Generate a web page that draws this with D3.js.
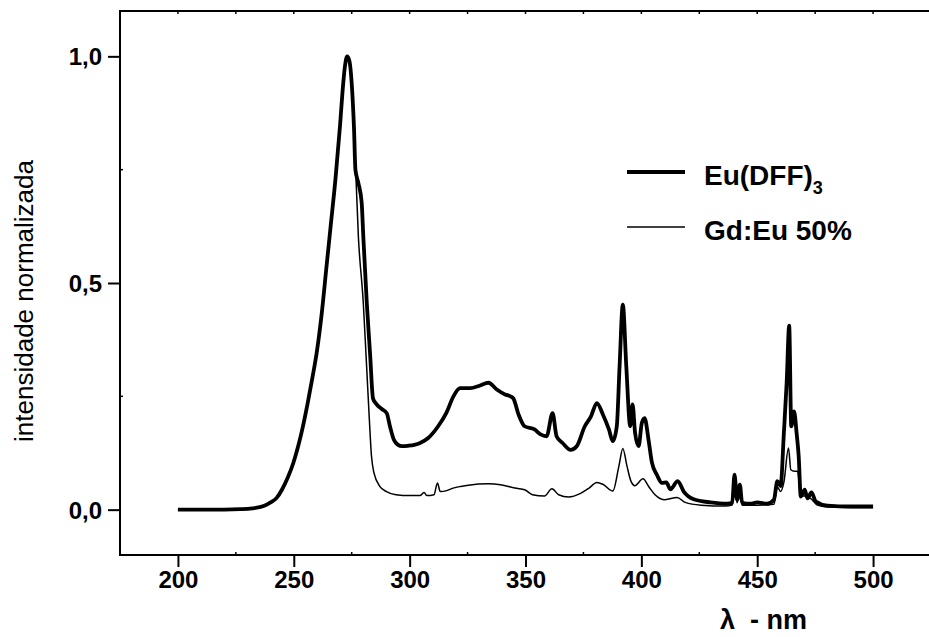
<!DOCTYPE html>
<html>
<head>
<meta charset="utf-8">
<script src="https://cdn.jsdelivr.net/npm/d3@7"></script>
<style>
    body { margin: 0; background: #fff; }
    svg { display: block; }
    text { font-family: "Liberation Sans", Arial, sans-serif; fill: #000; }
</style>
</head>
<body>
<svg id="chart" width="929" height="637"></svg>
<script>
(function() {

    //  Eu(DFF)3 excitation spectrum (wavelength nm, normalized intensity)
    var euWl = [200, 210, 220, 227, 232, 237, 240, 242.6, 245, 247.5, 249.8, 252, 254, 256, 258, 260, 262, 264, 266,
        268, 270, 271, 272, 273, 274, 275, 276, 276.6, 277.9, 279.3, 280, 281.5, 282.9, 284.2, 285.8, 288,
        290.1, 291.5, 293.2, 295, 296.7, 299.3, 302, 304.5, 308, 312.3, 315.8, 318.9, 321.8, 326.1, 330.4, 334, 337.6,
        341.2, 343.5, 344.8, 347, 349.6, 353.9, 356.5, 359.1, 361.7, 363.4, 366, 369.5, 372.1, 375.6, 378.2, 380.8,
        383.4, 386, 387.7, 389.4, 390.6, 392, 393.5, 395.2, 396.2, 397.3, 398.8, 400.2, 401.4, 403.1, 404.6, 406.7,
        408.9, 410.8, 412.5, 415.7, 418.3, 422.6, 429.8, 437, 439.2, 440.2, 441.3, 442.5, 443.5, 447.1, 450, 454.3,
        457.2, 458.7, 460.1, 461.5, 462.7, 463.8, 464.7, 465.9, 467, 467.9, 468.8, 470.5, 471.7, 473.4, 475.3, 480.3,
        490.4, 500];
    var euInt = [0, 0, 0, 0.001, 0.003, 0.008, 0.016, 0.026, 0.045, 0.072, 0.103, 0.142, 0.185, 0.235, 0.29, 0.35, 0.43, 0.53, 0.63,
        0.73, 0.85, 0.92, 0.975, 1.0, 0.99, 0.94, 0.84, 0.75, 0.72, 0.677, 0.603, 0.456, 0.346, 0.245, 0.232, 0.222,
        0.213, 0.184, 0.154, 0.143, 0.140, 0.141, 0.143, 0.147, 0.158, 0.184, 0.213, 0.25, 0.268, 0.268, 0.274, 0.280, 0.265,
        0.254, 0.25, 0.245, 0.210, 0.184, 0.177, 0.166, 0.162, 0.213, 0.162, 0.147, 0.132, 0.140, 0.184, 0.205, 0.235,
        0.210, 0.177, 0.151, 0.184, 0.316, 0.452, 0.316, 0.184, 0.232, 0.169, 0.140, 0.191, 0.202, 0.154, 0.103, 0.077,
        0.059, 0.060, 0.045, 0.063, 0.040, 0.023, 0.016, 0.013, 0.015, 0.077, 0.022, 0.055, 0.015, 0.013, 0.016, 0.013,
        0.022, 0.063, 0.052, 0.169, 0.279, 0.406, 0.184, 0.217, 0.169, 0.118, 0.029, 0.044, 0.025, 0.038, 0.018, 0.009,
        0.007, 0.007];

    //  Gd:Eu 50% excitation spectrum
    var gdWl = [200, 210, 220, 227, 232, 237, 240, 242.6, 245, 247.5, 249.8, 252, 254, 256, 258, 260, 262, 264, 266,
        268, 270, 271, 272, 273, 274, 275, 276, 277.9, 280, 281.5, 282.6, 283.5, 284.6, 287.2, 290, 294.1, 300,
        304.5, 306.2, 307.5, 310.5, 312, 313.2, 316, 318.4, 325.3, 334, 339.2, 346.1, 349.6, 353, 358.2, 361.4, 364.3,
        368.6, 373.8, 377.3, 380.8, 383.4, 387.7, 390.3, 392, 393.8, 395.5, 397.2, 400.7, 403.3, 405.9, 410.2, 415.4,
        418.9, 425.8, 436.2, 439.2, 440.2, 441.3, 442.5, 443.5, 450, 457.2, 458.7, 460.1, 461.5, 463.5, 464.5, 466, 467.4,
        468.8, 470.5, 473, 476, 480, 490, 500];
    var gdInt = [0, 0, 0, 0.001, 0.003, 0.008, 0.016, 0.026, 0.045, 0.072, 0.103, 0.142, 0.185, 0.235, 0.29, 0.35, 0.43, 0.53, 0.63,
        0.73, 0.85, 0.92, 0.975, 1.0, 0.99, 0.94, 0.84, 0.60, 0.456, 0.309, 0.2, 0.12, 0.081, 0.051, 0.04, 0.033, 0.031,
        0.031, 0.038, 0.031, 0.033, 0.059, 0.040, 0.042, 0.047, 0.054, 0.057, 0.055, 0.047, 0.044, 0.033, 0.030, 0.046, 0.033,
        0.028, 0.036, 0.047, 0.060, 0.056, 0.041, 0.096, 0.135, 0.096, 0.063, 0.053, 0.068, 0.050, 0.033, 0.022, 0.027,
        0.016, 0.010, 0.008, 0.010, 0.060, 0.015, 0.040, 0.010, 0.010, 0.012, 0.050, 0.040, 0.060, 0.136, 0.088, 0.085, 0.085,
        0.030, 0.030, 0.025, 0.010, 0.006, 0.005, 0.005];

    var seriesNames = ['Eu(DFF)', 'Gd:Eu 50%'];
    var xTicks = [200, 250, 300, 350, 400, 450, 500];
    var yTicks = [0, 0.5, 1.0];
    var yTickLabels = ['0,0', '0,5', '1,0'];

    var margin = { left: 120, top: 11, right: 931, bottom: 555 };

    var x = d3.scaleLinear().domain([175, 525]).range([margin.left, margin.right]);
    var y = d3.scaleLinear().domain([-0.1, 1.1]).range([margin.bottom, margin.top]);

    var svg = d3.select('#chart');

    function pairs(wl, val) {
        return wl.map(function(w, i) { return { wl: w, v: val[i] }; });
    }

    var line = d3.line()
        .curve(d3.curveMonotoneX)
        .x(function(d) { return x(d.wl); })
        .y(function(d) { return y(d.v); });

    //  Spectra
    svg.append('path')
        .datum(pairs(gdWl, gdInt))
        .attr('fill', 'none')
        .attr('stroke', '#000')
        .attr('stroke-width', 1.5)
        .attr('stroke-linejoin', 'round')
        .attr('d', line);

    svg.append('path')
        .datum(pairs(euWl, euInt))
        .attr('fill', 'none')
        .attr('stroke', '#000')
        .attr('stroke-width', 3.8)
        .attr('stroke-linejoin', 'round')
        .attr('d', line);

    //  Frame
    svg.append('rect')
        .attr('x', margin.left)
        .attr('y', margin.top)
        .attr('width', margin.right - margin.left)
        .attr('height', margin.bottom - margin.top)
        .attr('fill', 'none')
        .attr('stroke', '#000')
        .attr('stroke-width', 2);

    //  Bottom axis (major ticks outside, labels)
    var xAxis = d3.axisBottom(x).tickValues(xTicks).tickSize(12).tickFormat(d3.format('d'));
    var gx = svg.append('g').attr('transform', 'translate(0,' + margin.bottom + ')').call(xAxis);
    gx.select('.domain').remove();
    gx.selectAll('line').attr('stroke-width', 2);
    gx.selectAll('text').attr('y', 16).attr('dy', '0.71em')
        .style('font-size', '24px').style('font-weight', 'bold');

    //  Minor ticks bottom (inside) and top (inside)
    var minorX = d3.range(175, 526, 25).filter(function(v) { return xTicks.indexOf(v) < 0; });
    svg.append('g').selectAll('line').data(minorX).join('line')
        .attr('x1', x).attr('x2', x)
        .attr('y1', margin.bottom).attr('y2', margin.bottom - 3)
        .attr('stroke', '#000').attr('stroke-width', 1.5);
    svg.append('g').selectAll('line').data(d3.range(175, 526, 25)).join('line')
        .attr('x1', x).attr('x2', x)
        .attr('y1', margin.top).attr('y2', margin.top + 3)
        .attr('stroke', '#000').attr('stroke-width', 1.5);

    //  Left axis
    var yAxis = d3.axisLeft(y).tickValues(yTicks).tickSize(12)
        .tickFormat(function(d, i) { return yTickLabels[i]; });
    var gy = svg.append('g').attr('transform', 'translate(' + margin.left + ',0)').call(yAxis);
    gy.select('.domain').remove();
    gy.selectAll('line').attr('stroke-width', 2);
    gy.selectAll('text').attr('x', -18).attr('dy', '0.35em')
        .style('font-size', '24px').style('font-weight', 'bold');

    svg.append('g').selectAll('line').data([0.25, 0.75]).join('line')
        .attr('x1', margin.left).attr('x2', margin.left + 3)
        .attr('y1', y).attr('y2', y)
        .attr('stroke', '#000').attr('stroke-width', 1.5);

    //  Axis titles
    svg.append('text')
        .attr('transform', 'translate(33,301) rotate(-90)')
        .attr('text-anchor', 'middle')
        .style('font-size', '26px')
        .text('intensidade normalizada');

    svg.append('text')
        .attr('x', 720).attr('y', 629)
        .style('font-size', '27px').style('font-weight', 'bold')
        .attr('xml:space', 'preserve')
        .text('\u03bb  - nm');

    //  Legend
    var legend = [
        { name: seriesNames[0], sub: '3', width: 3.8, ly: 172, ty: 185 },
        { name: seriesNames[1], sub: null, width: 1.5, ly: 227, ty: 240 }
    ];
    var lg = svg.append('g').selectAll('g').data(legend).join('g');
    lg.append('line')
        .attr('x1', 627).attr('x2', 685)
        .attr('y1', function(d) { return d.ly; }).attr('y2', function(d) { return d.ly; })
        .attr('stroke', '#000')
        .attr('stroke-width', function(d) { return d.width; });
    var lt = lg.append('text')
        .attr('x', 704)
        .attr('y', function(d) { return d.ty; })
        .style('font-size', '28px').style('font-weight', 'bold');
    lt.append('tspan').text(function(d) { return d.name; });
    lt.filter(function(d) { return d.sub; })
        .append('tspan')
        .attr('dy', 9)
        .style('font-size', '18px')
        .text(function(d) { return d.sub; });

})();
</script>
</body>
</html>
